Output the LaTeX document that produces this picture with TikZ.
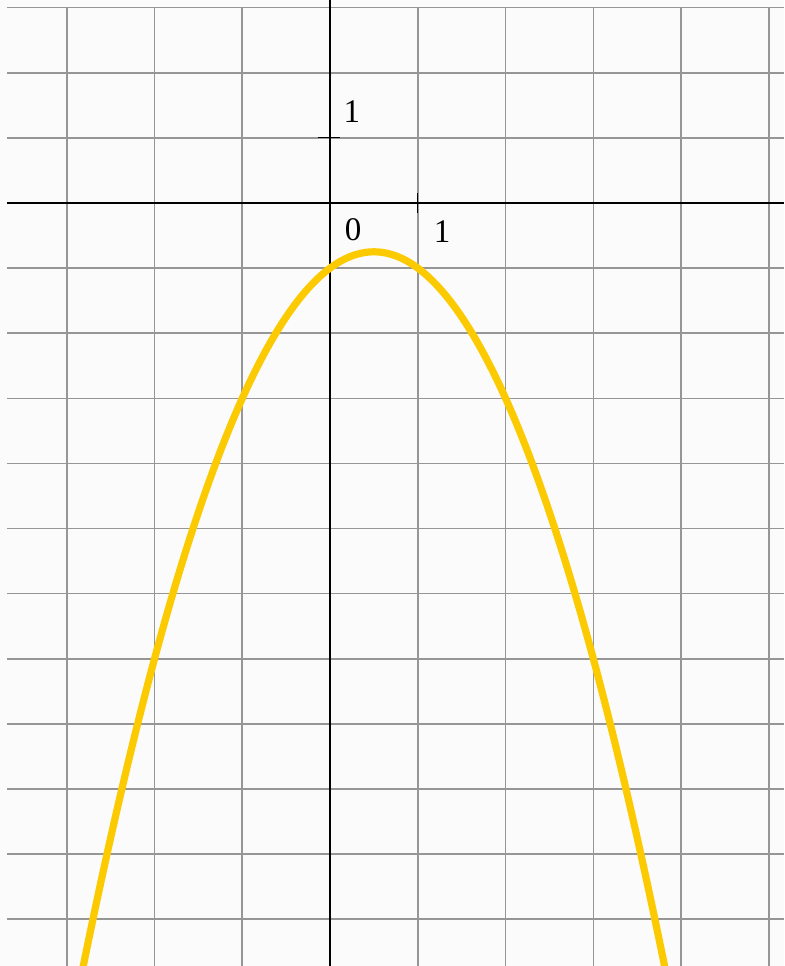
\documentclass[tikz,border=0pt]{standalone}
\usepackage{xcolor}
\usepackage{fontspec}
\setmainfont{Liberation Serif}
\usepackage{tikz}
\usetikzlibrary{positioning}

\definecolor{curvegold}{RGB}{252,202,0}
\definecolor{gridgray}{RGB}{150,150,150}
\definecolor{paper}{RGB}{251,251,251}

\begin{document}
\begin{tikzpicture}[
  x=43.875pt, y=32.55pt,
  gridline/.style={draw=gridgray, line width=0.8pt},
  axis/.style={draw=black, line width=0.6pt},
  lbl/.style={font=\fontsize{16.5}{18}\selectfont, inner sep=0pt},
  graph/.style={draw=curvegold, line width=3.6pt}
]
\useasboundingbox[fill=paper] (-3.761,-11.72) rectangle (5.174,3.118);
\clip (-3.761,-11.72) rectangle (5.174,3.118);

% grid
\foreach \i in {-3,...,5}
  \draw[gridline] (\i,-11.72) -- (\i,3);
\foreach \j in {-11,...,3}
  \draw[gridline] (-3.681,\j) -- (5.174,\j);

% axes
\coordinate (xl) at (-3.681,0);
\coordinate (xr) at (5.174,0);
\coordinate (yb) at (0,-11.72);
\coordinate (yt) at (0,3.118);
\draw[axis] (xl) -- (xr);
\draw[axis] (yb) -- (yt);

% ticks
\draw[axis] (-0.137,1) -- (0.114,1);
\draw[axis] (1,0.15) -- (1,-0.15);

\node[lbl] (o) at (0.262,-0.415) {0};
\node[lbl] (xone) at (1.276,-0.445) {1};
\node[lbl] (yone) at (0.25,1.40) {1};

% parabola y = -x^2 + x - 1
\draw[graph, line join=round] plot[domain=-2.95:3.95, samples=120, smooth] (\x,{-(\x)*(\x)+\x-1});
\end{tikzpicture}
\end{document}
